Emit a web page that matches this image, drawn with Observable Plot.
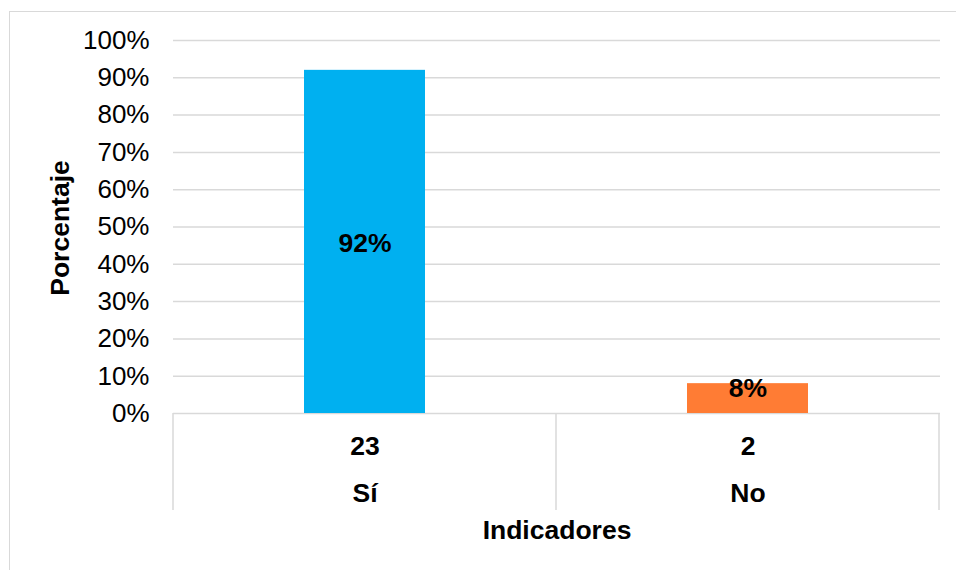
<!DOCTYPE html>
<html>
<head>
<meta charset="utf-8">
<script src="https://cdn.jsdelivr.net/npm/d3@7"></script>
<script src="https://cdn.jsdelivr.net/npm/@observablehq/plot@0.6"></script>
<style>
  body { margin: 0; background: #fff; overflow: hidden; }
  #wrap { position: relative; width: 956px; height: 570px; }
  #frame { position: absolute; left: 9px; top: 11px; width: 1000px; height: 1000px; border: 1.5px solid #d9d9d9; pointer-events: none; }
  svg { display: block; }
</style>
</head>
<body>
<div id="wrap"><div id="frame"></div></div>
<script>
const categories = ["Sí", "No"];
const counts = [23, 2];
const percentages = [0.92, 0.08];
const colors = ["#00B0F0", "#FF7C34"];
const yTicks = [0, 0.1, 0.2, 0.3, 0.4, 0.5, 0.6, 0.7, 0.8, 0.9, 1.0];

const data = categories.map((c, i) => ({cat: c, count: counts[i], value: percentages[i], color: colors[i]}));
const fmt = d3.format(".0%");
const font = "Liberation Sans, Arial, sans-serif";
const bold = 26.5;

const chart = Plot.plot({
  width: 956,
  height: 570,
  marginLeft: 173,
  marginRight: 16,
  marginTop: 40,
  marginBottom: 157,
  style: {fontFamily: font, fontSize: "26px", color: "#000", background: "transparent"},
  x: {domain: categories, paddingInner: 0.684, paddingOuter: 0.342, axis: null},
  y: {domain: [0, 1], axis: null},
  marks: [
    Plot.gridY(yTicks, {stroke: "#d9d9d9", strokeOpacity: 1, strokeWidth: 1.5}),
    Plot.barY(data, {x: "cat", y: "value", fill: "color"}),
    Plot.axisY(yTicks, {tickSize: 0, tickPadding: 24, tickFormat: fmt, fontSize: 26, fill: "#000", label: null}),
    Plot.text(data.filter(d => d.value >= 0.2), {x: "cat", y: d => d.value / 2, text: d => fmt(d.value), fontSize: bold, fontWeight: "bold", fill: "#000", dy: 2}),
    Plot.text(data.filter(d => d.value < 0.2), {x: "cat", y: "value", text: d => fmt(d.value), fontSize: bold, fontWeight: "bold", fill: "#000", dy: 5}),
    Plot.text(data, {x: "cat", frameAnchor: "bottom", lineAnchor: "middle", text: d => String(d.count), fontSize: bold, fontWeight: "bold", fill: "#000", dy: 33}),
    Plot.text(data, {x: "cat", frameAnchor: "bottom", lineAnchor: "middle", text: "cat", fontSize: bold, fontWeight: "bold", fill: "#000", dy: 80}),
    Plot.text(["Indicadores"], {frameAnchor: "bottom", lineAnchor: "middle", text: d => d, fontSize: bold, fontWeight: "bold", fill: "#000", dy: 117}),
    Plot.text(["Porcentaje"], {frameAnchor: "left", textAnchor: "middle", lineAnchor: "middle", text: d => d, fontSize: bold, fontWeight: "bold", fill: "#000", rotate: -90, dx: -113, dy: 1})
  ]
});

// category separator lines below the axis, positioned with the x scale
const xs = chart.scale("x");
const half = xs.step / 2;
const bounds = categories.map(c => xs.apply(c) + xs.bandwidth / 2 - half);
bounds.push(xs.apply(categories[categories.length - 1]) + xs.bandwidth / 2 + half);
const y0 = chart.scale("y").apply(0);
d3.select(chart).append("g")
  .selectAll("line").data(bounds).join("line")
  .attr("x1", d => d).attr("x2", d => d)
  .attr("y1", y0).attr("y2", y0 + 97)
  .attr("stroke", "#d9d9d9").attr("stroke-width", 1.5);

document.getElementById("wrap").prepend(chart);
</script>
</body>
</html>
